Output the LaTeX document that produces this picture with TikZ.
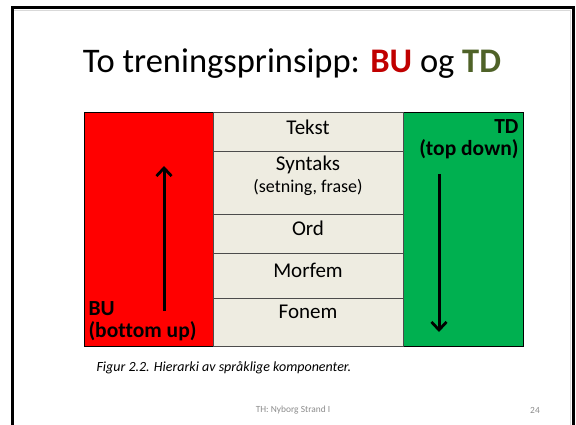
\documentclass[tikz,border=0pt]{standalone}
\usepackage{fontspec}
\setmainfont{Carlito}[Ligatures=CommonOff]
\usetikzlibrary{arrows.meta}
\definecolor{bucol}{HTML}{FF0000}
\definecolor{tdcol}{HTML}{00B050}
\definecolor{midcol}{HTML}{EEECE1}
\definecolor{butitle}{HTML}{C00000}
\definecolor{tdtitle}{HTML}{4F6228}
\definecolor{footgray}{HTML}{8C8C8C}
\newcommand{\layerbox}[5]{ \draw[#5] ( #1 , #2 ) rectangle ( #3 , #4 );}

\begin{document}
\begin{tikzpicture}[x=1pt,y=-1pt,
    layer/.style={font=\fontsize{21}{23}\selectfont},
    side/.style={font=\bfseries\fontsize{21.5}{22.5}\selectfont},
    flow/.style={line width=3pt,-{Straight Barb[length=8pt,width=15pt,line width=2.8pt]}}]
        \useasboundingbox (0,0) rectangle (576,425);
        % slide frame
        \draw[gray!30, line width=0.8pt] (11,10.5) -- (570.5,10.5) -- (570.5,430);
        \draw[line width=3pt] (12.5,430) -- (12.5,8) -- (573,8) -- (573,430);

        % title
        \node (title) at (292,64) {\fontsize{34.5}{38}\selectfont To treningsprinsipp: \textcolor{butitle}{\bfseries BU} og \textcolor{tdtitle}{\bfseries TD}};

        % columns
        \layerbox{84}{112}{213}{346}{fill=bucol, draw=black, thin}
        \layerbox{403}{112}{523}{346}{fill=tdcol, draw=black, thin}
        % layers
        \layerbox{213}{112}{403}{151}{fill=midcol, draw=black!70, thin}
        \layerbox{213}{151}{403}{214}{fill=midcol, draw=black!70, thin}
        \layerbox{213}{214}{403}{253}{fill=midcol, draw=black!70, thin}
        \layerbox{213}{253}{403}{298}{fill=midcol, draw=black!70, thin}
        \layerbox{213}{298}{403}{346}{fill=midcol, draw=black!70, thin}

        \node[layer] (tekst) at (308,127) {Tekst};
        \node[layer] (syntaks) at (308,165) {Syntaks};
        \node[font=\fontsize{18}{20}\selectfont] (frase) at (308,187) {(setning, frase)};
        \node[layer] (ord) at (308,228) {Ord};
        \node[layer] (morfem) at (308,270) {Morfem};
        \node[layer] (fonem) at (308,312) {Fonem};

        % BU side
        \node[side, anchor=west, align=left] (bu) at (85,321) {BU\\(bottom up)};
        \coordinate (bufrom) at (164,311);
        \coordinate (buto) at (164,166);
        \draw[flow] (bufrom) -- (buto);

        % TD side
        \node[side, anchor=east, align=right] (td) at (522,139) {TD\\(top down)};
        \coordinate (tdfrom) at (439,174);
        \coordinate (tdto) at (439,332);
        \draw[flow] (tdfrom) -- (tdto);

        % caption and footer
        \node[anchor=west, font=\itshape\fontsize{14}{16}\selectfont] (caption) at (93,368) {Figur 2.2. Hierarki av språklige komponenter.};
        \node[text=footgray, font=\fontsize{9.4}{11}\selectfont] (footer) at (293,410) {TH: Nyborg Strand I};
        \node[text=footgray, font=\fontsize{9.4}{11}\selectfont] (page) at (535,410) {24};
    \end{tikzpicture}
\end{document}
